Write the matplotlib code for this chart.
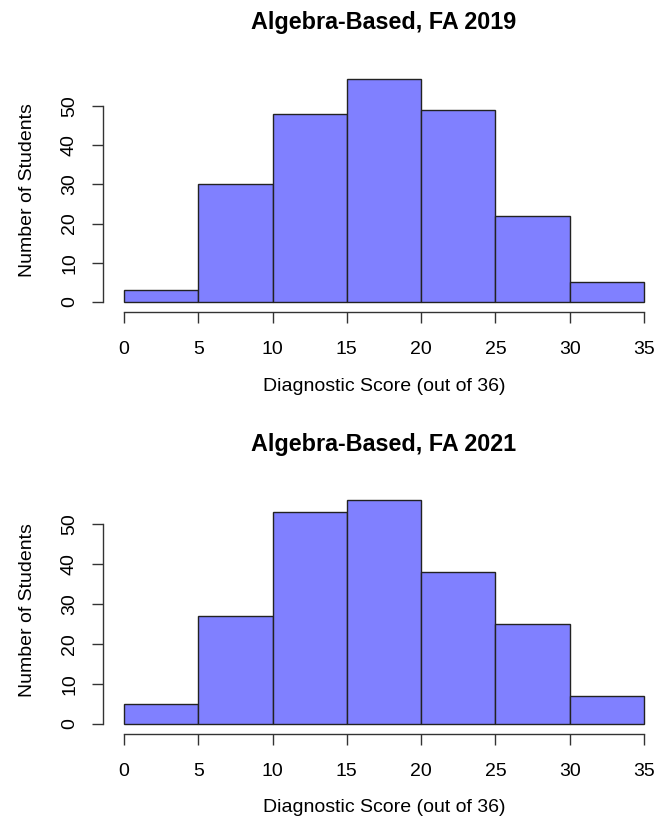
import numpy as np
import matplotlib
matplotlib.use("Agg")
from matplotlib import pyplot as plt

plt.rcParams['font.family'] = ['Liberation Sans', 'DejaVu Sans']

bin_edges = [0, 5, 10, 15, 20, 25, 30, 35]
counts_2019 = [3, 30, 48, 57, 49, 22, 5]
counts_2021 = [5, 27, 53, 56, 38, 25, 7]
titles = ["Algebra-Based, FA 2019", "Algebra-Based, FA 2021"]
xticks = [0, 5, 10, 15, 20, 25, 30, 35]
yticks = [0, 10, 20, 30, 40, 50]

W, H = 655, 817
fig = plt.figure(figsize=(W / 100, H / 100), dpi=100)


def px(x, y):
    # pixel coords (from top-left) -> figure fraction
    return x / W, 1 - y / H


def draw_hist(counts, title, y0_px, px_per_unit, ymax=60):
    left, right = 124, 644
    height = ymax * px_per_unit
    ax = fig.add_axes([left / W, (H - y0_px) / H, (right - left) / W, height / H])
    widths = np.diff(bin_edges)
    bars = ax.bar(bin_edges[:-1], counts, width=widths, align='edge',
                  color='#8080ff', edgecolor='#222222', linewidth=1.0)
    for b in bars:
        b.set_clip_on(False)
    ax.set_xlim(0, 35)
    ax.set_ylim(0, ymax)
    for s in ['top', 'right']:
        ax.spines[s].set_visible(False)
    ax.spines['left'].set_position(('outward', 21 * 0.72))
    ax.spines['bottom'].set_position(('outward', 10 * 0.72))
    ax.spines['left'].set_bounds(0, 50)
    ax.spines['bottom'].set_bounds(0, 35)
    for s in ['left', 'bottom']:
        ax.spines[s].set_linewidth(1.0)
        ax.spines[s].set_color('#333333')
    ax.set_xticks(xticks)
    ax.set_yticks(yticks)
    ax.tick_params(axis='both', length=8, width=1.0, color='#333333',
                   labelsize=14, labelcolor='black')
    ax.tick_params(axis='x', pad=13)
    ax.tick_params(axis='y', pad=10)
    for lab in ax.get_yticklabels():
        lab.set_rotation(90)
        lab.set_va('center')
    # title / axis labels placed like R's margins
    fig.text(*px(384, y0_px - 280), title, ha='center', va='center',
             fontsize=16.8, fontweight='bold')
    fig.text(*px(384, y0_px + 84), "Diagnostic Score (out of 36)",
             ha='center', va='center', fontsize=14)
    fig.text(*px(28, y0_px - 28.5 * px_per_unit), "Number of Students",
             ha='center', va='center', rotation=90, fontsize=14)
    return ax


draw_hist(counts_2019, titles[0], 302, 3.92)
draw_hist(counts_2021, titles[1], 724, 4.0)

fig.savefig("out.png", dpi=100)
